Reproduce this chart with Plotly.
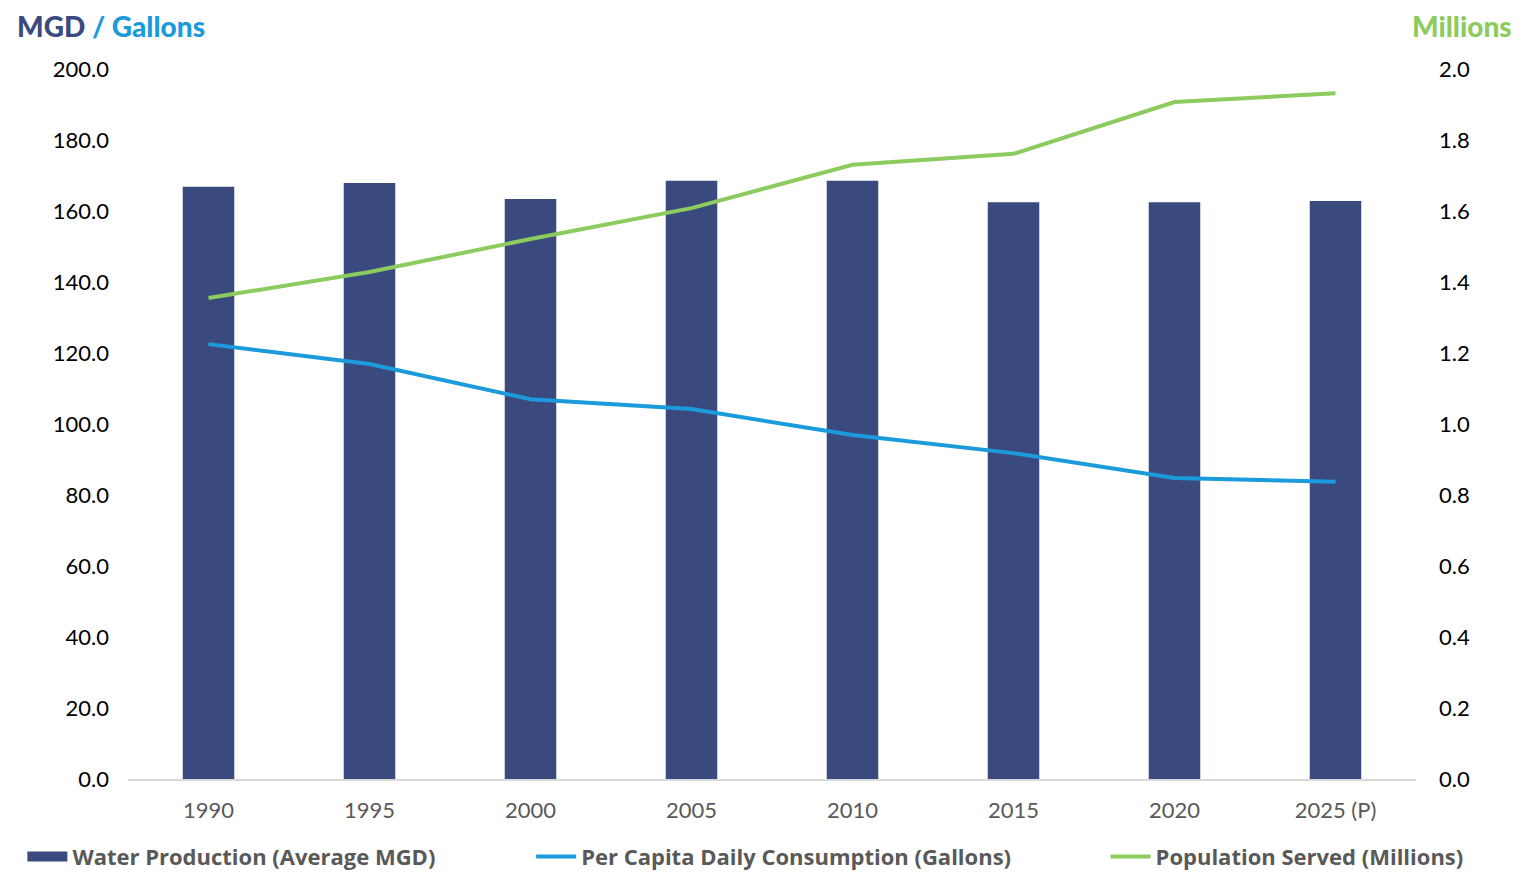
import plotly.graph_objects as go

years = ['1990', '1995', '2000', '2005', '2010', '2015', '2020', '2025 (P)']
water_production = [166.8, 167.9, 163.4, 168.5, 168.5, 162.5, 162.5, 162.8]
per_capita = [122.5, 116.9, 107.0, 104.2, 96.9, 91.8, 84.8, 83.7]
population = [1.355, 1.428, 1.521, 1.608, 1.730, 1.761, 1.907, 1.932]

navy = '#3B4A7E'
blue = '#1B9BDB'
green = '#8CCB5E'
font_family = 'Lato, "Open Sans", sans-serif'

fig = go.Figure()

fig.add_trace(go.Bar(
    x=years, y=water_production,
    name='Water Production (Average MGD)',
    marker=dict(color=navy, line=dict(width=0)),
    showlegend=False,
))

# legend entry for the bars, drawn as a thick line so it looks like a wide block
fig.add_trace(go.Scatter(
    x=[None], y=[None],
    name='Water Production (Average MGD)',
    mode='lines', line=dict(color=navy, width=16),
    legend='legend',
))

fig.add_trace(go.Scatter(
    x=years, y=per_capita,
    name='Per Capita Daily Consumption (Gallons)',
    mode='lines', line=dict(color=blue, width=4),
    legend='legend2',
))

fig.add_trace(go.Scatter(
    x=years, y=population,
    name='Population Served (Millions)',
    mode='lines', line=dict(color=green, width=4),
    yaxis='y2', legend='legend3',
))

legend_font = dict(size=22, color='#595959', family='"Open Sans", sans-serif', weight='bold')
legend_y = -0.08

# page body has an 8px margin, so the figure is a bit smaller than the window
fig.update_layout(
    width=1513, height=866,
    margin=dict(l=120, r=105, t=61, b=95, autoexpand=False),
    paper_bgcolor='white', plot_bgcolor='white',
    font=dict(family=font_family, size=22, color='#000000'),
    bargap=0.68,
    showlegend=True,
    legend=dict(orientation='h', x=-0.082, xanchor='left', y=legend_y, yanchor='top',
                font=legend_font, itemwidth=40),
    legend2=dict(orientation='h', x=0.313, xanchor='left', y=legend_y, yanchor='top',
                 font=legend_font, itemwidth=40),
    legend3=dict(orientation='h', x=0.759, xanchor='left', y=legend_y, yanchor='top',
                 font=legend_font, itemwidth=40),
    xaxis=dict(
        showgrid=False, showline=True, linecolor='#D9D9D9', linewidth=2,
        ticks='', ticklabelstandoff=11, tickfont=dict(size=22, color='#595959'),
    ),
    yaxis=dict(
        range=[0, 200], tickvals=[0, 20, 40, 60, 80, 100, 120, 140, 160, 180, 200],
        tickformat='.1f', showgrid=False, zeroline=False, ticks='',
        ticklabelstandoff=18, tickfont=dict(size=22, color='#000000'),
    ),
    yaxis2=dict(
        range=[0, 2.0], tickvals=[0, 0.2, 0.4, 0.6, 0.8, 1.0, 1.2, 1.4, 1.6, 1.8, 2.0],
        tickformat='.1f', overlaying='y', side='right', showgrid=False,
        zeroline=False, ticks='', ticklabelstandoff=22,
        tickfont=dict(size=22, color='#000000'),
    ),
    annotations=[
        dict(
            text=f'<span style="color:{navy}">MGD</span> <span style="color:{blue}">/ Gallons</span>',
            xref='paper', yref='paper', x=-0.088, y=1.06, xanchor='left', yanchor='middle',
            showarrow=False, font=dict(size=28, family=font_family, weight=900),
        ),
        dict(
            text='Millions',
            xref='paper', yref='paper', x=1.076, y=1.06, xanchor='right', yanchor='middle',
            showarrow=False, font=dict(size=28, color=green, family=font_family, weight=900),
        ),
    ],
)

fig.write_html('out.html')
